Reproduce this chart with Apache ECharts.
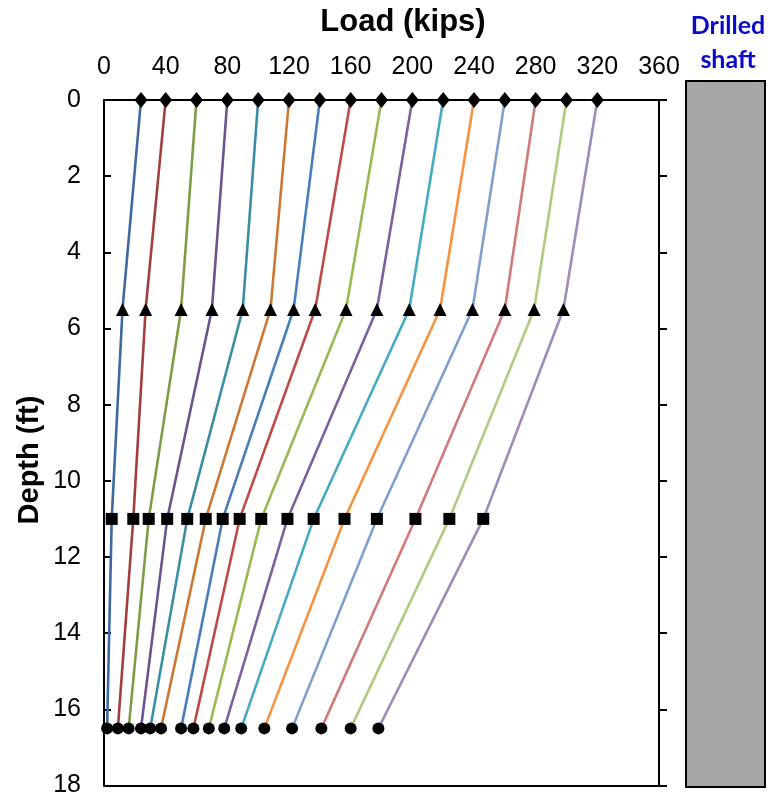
<!DOCTYPE html>
<html>
<head>
<meta charset="utf-8">
<script src="https://cdn.jsdelivr.net/npm/echarts@6/dist/echarts.min.js"></script>
<style>html,body{margin:0;padding:0;background:#fff}#c{width:771px;height:798px}</style>
</head>
<body>
<div id="c"></div>
<script>
// Depth levels (ft) where markers are plotted
const depths = [0, 5.5, 11, 16.5];
const depthMarkers = ['diamond', 'triangle', 'rect', 'circle'];
// Load (kips) at each depth, one entry per load curve
const loadAt0 = [24, 40, 60, 80, 100, 120, 140, 160, 180, 200, 220, 240, 260, 280, 300, 320];
const loadAt5_5 = [12, 27, 50, 70, 90, 108, 123, 137, 157, 177, 198, 218, 239, 260, 279, 298];
const loadAt11 = [5, 19, 29, 41, 54, 66, 77, 88, 102, 119, 136, 156, 177, 202, 224, 246];
const loadAt16_5 = [2, 9, 16, 24, 30, 37, 50, 58, 68, 78, 89, 104, 122, 141, 160, 178];
// Axis ticks
const loadTicks = [0, 40, 80, 120, 160, 200, 240, 280, 320, 360];
const depthTicks = [0, 2, 4, 6, 8, 10, 12, 14, 16, 18];

const colors = ['#3D699E','#A03F3D','#7E9C45','#6A538E','#3A8DA4','#CC7834',
                '#4A7EBB','#BE4B48','#98B954','#7D60A0','#46AAC5','#F69240',
                '#7E9FD0','#D07B79','#B0CB80','#9E8CBA'];
const symSizes = [[13,16], 13, 12, 12];

const levels = [loadAt0, loadAt5_5, loadAt11, loadAt16_5];
const series = loadAt0.map((_, i) => ({
  type: 'line',
  xAxisIndex: 0,
  yAxisIndex: 0,
  z: 2 + i,
  data: depths.map((d, k) => ({
    value: [levels[k][i], d],
    symbol: depthMarkers[k],
    symbolSize: symSizes[k]
  })),
  lineStyle: { color: colors[i], width: 2.6 },
  itemStyle: { color: '#000' },
  showSymbol: true,
  animation: false
}));

const chart = echarts.init(document.getElementById('c'), null, { renderer: 'canvas' });
const FONT = '"Liberation Sans", Arial, sans-serif';
chart.setOption({
  backgroundColor: '#fff',
  animation: false,
  grid: { left: 104, right: 112, top: 100, bottom: 11, containLabel: false },
  xAxis: [
    {
      type: 'value', position: 'top', min: loadTicks[0], max: loadTicks[loadTicks.length - 1], interval: 40,
      axisLine: { show: true, lineStyle: { color: '#000', width: 2 } },
      axisTick: { show: false },
      splitLine: { show: false },
      axisLabel: { color: '#000', fontSize: 25, fontFamily: FONT, margin: 20 }
    },
    {
      type: 'value', position: 'bottom', min: 0, max: 360, interval: 40,
      axisLine: { show: true, onZero: false, lineStyle: { color: '#000', width: 2 } },
      axisTick: { show: false }, axisLabel: { show: false }, splitLine: { show: false }
    }
  ],
  yAxis: [
    {
      type: 'value', inverse: true, position: 'left', min: depthTicks[0], max: depthTicks[depthTicks.length - 1], interval: 2,
      axisLine: { show: true, onZero: false, lineStyle: { color: '#000', width: 2 } },
      axisTick: { show: true, inside: true, length: 7, lineStyle: { color: '#000', width: 2 } },
      splitLine: { show: false },
      axisLabel: { color: '#000', fontSize: 25, fontFamily: FONT, margin: 23 }
    },
    {
      type: 'value', inverse: true, position: 'right', min: 0, max: 18, interval: 2,
      axisLine: { show: true, onZero: false, lineStyle: { color: '#000', width: 2 } },
      axisTick: { show: true, inside: false, length: 8, lineStyle: { color: '#000', width: 2 } },
      splitLine: { show: false }, axisLabel: { show: false }
    }
  ],
  graphic: [
    { type: 'text', x: 403, y: 22, style: { text: 'Load (kips)', font: 'bold 31px ' + FONT, fill: '#000', textAlign: 'center', textVerticalAlign: 'middle' } },
    { type: 'text', x: 30, y: 460, rotation: Math.PI / 2, style: { text: 'Depth (ft)', font: 'bold 29px ' + FONT, fill: '#000', textAlign: 'center', textVerticalAlign: 'middle' } },
    { type: 'text', x: 728, y: 26, style: { text: 'Drilled', font: 'bold 25px Lato, "Open Sans", sans-serif', fill: '#0A0AC8', textAlign: 'center', textVerticalAlign: 'middle' } },
    { type: 'text', x: 728, y: 60, style: { text: 'shaft', font: 'bold 25px Lato, "Open Sans", sans-serif', fill: '#0A0AC8', textAlign: 'center', textVerticalAlign: 'middle' } },
    { type: 'rect', shape: { x: 686, y: 81, width: 79, height: 706 }, style: { fill: '#A6A6A6', stroke: '#000', lineWidth: 2 } }
  ],
  series: series
});
</script>
</body>
</html>
